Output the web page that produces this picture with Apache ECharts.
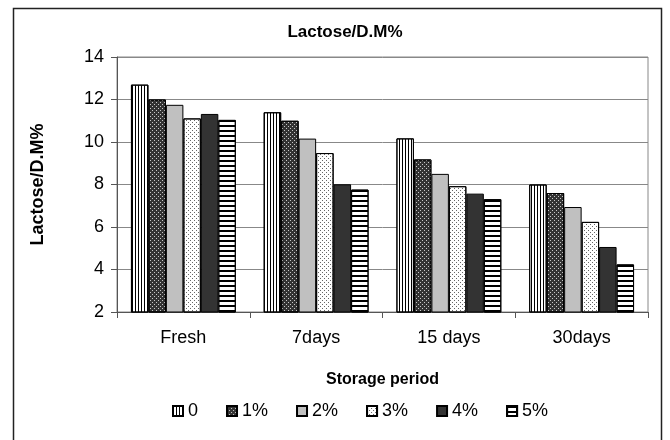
<!DOCTYPE html>
<html>
<head>
<meta charset="utf-8">
<script src="https://cdn.jsdelivr.net/npm/echarts@6/dist/echarts.min.js"></script>
<style>
html,body{margin:0;padding:0;background:#fff;}
#c{width:670px;height:440px;}
</style>
</head>
<body>
<div id="c"></div>
<script>
var categories = ['Fresh', '7days', '15 days', '30days'];
var seriesNames = ['0', '1%', '2%', '3%', '4%', '5%'];
var s0 = [12.70, 11.40, 10.17, 8.00];
var s1 = [12.00, 11.00, 9.18, 7.60];
var s2 = [11.75, 10.16, 8.50, 6.94];
var s3 = [11.11, 9.48, 7.92, 6.24];
var s4 = [11.32, 8.01, 7.57, 5.06];
var s5 = [11.04, 7.76, 7.31, 4.24];
var yTicks = [2, 4, 6, 8, 10, 12, 14];

var seriesData = [s0, s1, s2, s3, s4, s5];
var FONT = 'Liberation Sans, Arial, sans-serif';

var styles = [
  {color: '#ffffff', decal: {symbol: 'rect', symbolSize: 1, color: '#000', dashArrayX: [1, 2], dashArrayY: [4, 0]}},
  {color: '#333333', decal: {symbol: 'rect', symbolSize: 1, color: '#c8c8c8', dashArrayX: [[1, 3], [0, 2, 1, 1]], dashArrayY: [1, 1]}},
  {color: '#c0c0c0'},
  {color: '#ffffff', decal: {symbol: 'rect', symbolSize: 1, color: '#666', dashArrayX: [[1, 3], [0, 2, 1, 1]], dashArrayY: [1, 1]}},
  {color: '#333333'},
  {color: '#ffffff', decal: {symbol: 'rect', symbolSize: 1, color: '#000', dashArrayX: [4, 0], dashArrayY: [2, 3]}}
];

var series = seriesData.map(function (d, i) {
  var st = {color: styles[i].color, borderColor: '#000', borderWidth: 1};
  if (styles[i].decal) st.decal = styles[i].decal;
  return {
    name: seriesNames[i],
    type: 'bar',
    data: d,
    barGap: '0%',
    barCategoryGap: '21%',
    itemStyle: st,
    emphasis: {disabled: true},
    animation: false
  };
});

var chart = echarts.init(document.getElementById('c'), null, {renderer: 'canvas'});
chart.setOption({
  animation: false,
  backgroundColor: '#fff',
  textStyle: {fontFamily: FONT},
  title: {
    text: 'Lactose/D.M%',
    left: 340,
    textAlign: 'center',
    top: 19,
    textStyle: {fontFamily: FONT, fontSize: 17, fontWeight: 'bold', color: '#000'}
  },
  grid: {
    left: 117, right: 22, top: 57, bottom: 128,
    show: true, borderColor: '#888', borderWidth: 1, backgroundColor: 'transparent'
  },
  legend: {
    data: seriesNames,
    top: 397,
    left: 167,
    itemWidth: 10,
    itemHeight: 10,
    itemGap: 28,
    icon: 'rect',
    textStyle: {fontFamily: FONT, fontSize: 18, color: '#000'},
    selectedMode: false
  },
  xAxis: {
    type: 'category',
    data: categories,
    name: 'Storage period',
    nameLocation: 'middle',
    nameGap: 60,
    nameTextStyle: {fontFamily: FONT, fontSize: 16, fontWeight: 'bold', color: '#000'},
    axisLine: {lineStyle: {color: '#555', width: 1}},
    axisTick: {show: true, alignWithLabel: false, length: 6, lineStyle: {color: '#555'}},
    axisLabel: {fontFamily: FONT, fontSize: 18, color: '#000', margin: 17}
  },
  yAxis: {
    type: 'value',
    min: 2,
    max: 14,
    interval: 2,
    name: 'Lactose/D.M%',
    nameLocation: 'middle',
    nameGap: 70,
    nameTextStyle: {fontFamily: FONT, fontSize: 18, fontWeight: 'bold', color: '#000'},
    axisLine: {show: true, lineStyle: {color: '#555', width: 1}},
    axisTick: {show: true, length: 6, lineStyle: {color: '#555'}},
    axisLabel: {fontFamily: FONT, fontSize: 18, color: '#000', margin: 13,
      formatter: function (v) { return yTicks.indexOf(v) >= 0 ? String(v) : ''; }},
    splitLine: {show: true, lineStyle: {color: '#888', width: 1}}
  },
  graphic: [{
    type: 'rect',
    shape: {x: 13.5, y: 8.5, width: 648, height: 440},
    style: {fill: 'none', stroke: '#222', lineWidth: 1.5},
    silent: true,
    z: 100
  }],
  series: series
});
</script>
</body>
</html>
